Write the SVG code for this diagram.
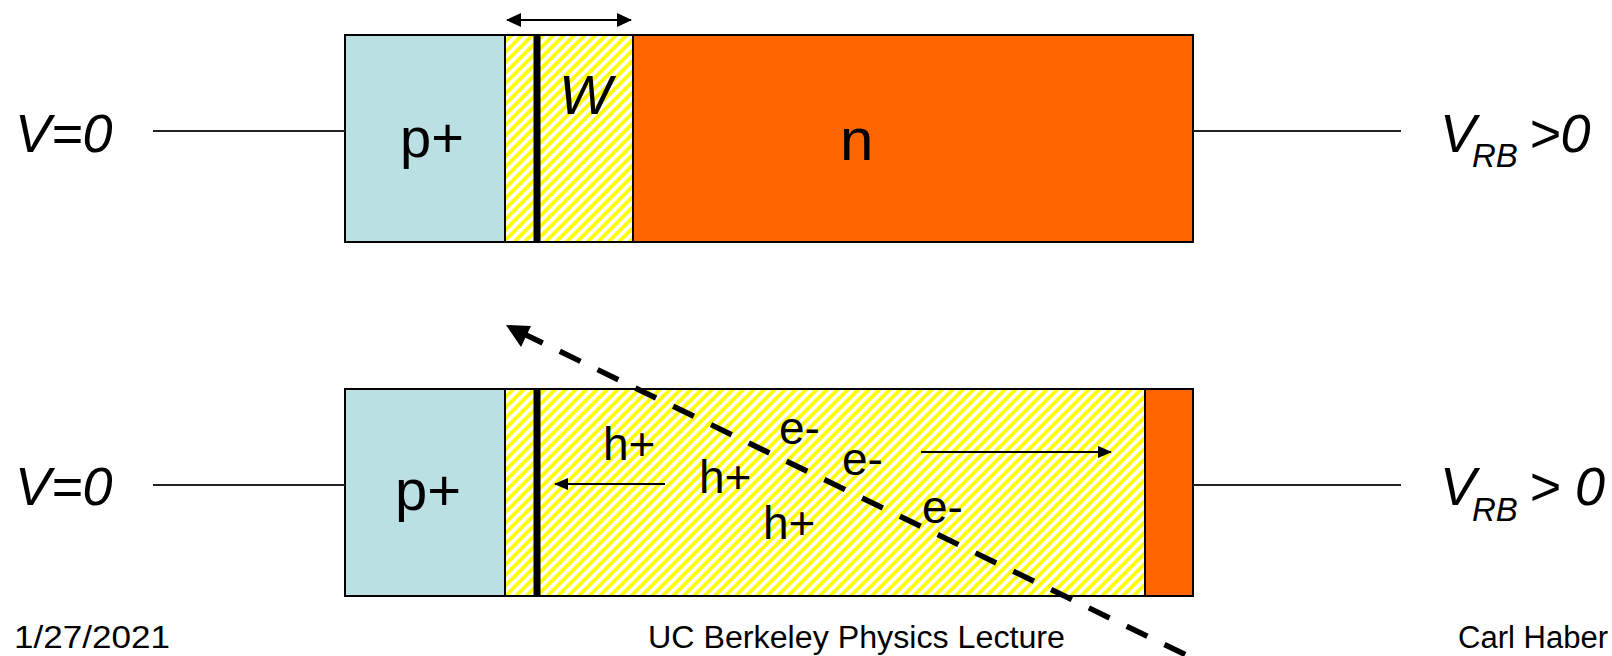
<svg xmlns="http://www.w3.org/2000/svg" width="1612" height="656" viewBox="0 0 1612 656">
<style>
.box{stroke:#000;stroke-width:2}
.pp{fill:#BBE0E3}
.nn{fill:#FF6600}
.hz{fill:url(#hatch)}
.junc{fill:#000}
.wire{stroke:#222;stroke-width:2;fill:none}
.lbl{font-family:"Liberation Sans",Arial,sans-serif;fill:#000}
.it{font-family:"Liberation Sans",Arial,sans-serif;font-style:italic;fill:#000}
.foot{font-family:"Liberation Sans",Arial,sans-serif;fill:#000;font-size:31px}
.arr{stroke:#000;stroke-width:2;fill:none}
</style>
<defs>
<pattern id="hatch" width="7.4" height="7.4" patternUnits="userSpaceOnUse" patternTransform="rotate(45)">
<rect width="7.4" height="7.4" fill="#fff"/>
<rect width="3.7" height="7.4" fill="#FFFF00"/>
</pattern>
<marker id="ah" markerUnits="userSpaceOnUse" markerWidth="16" markerHeight="16" refX="14" refY="7" orient="auto-start-reverse">
<path d="M0,0 L15,7 L0,14 z" fill="#000"/>
</marker>
<marker id="ahs" markerUnits="userSpaceOnUse" markerWidth="16" markerHeight="14" refX="13" refY="6" orient="auto-start-reverse">
<path d="M0,0 L14,6 L0,12 z" fill="#000"/>
</marker>
</defs>
<rect width="1612" height="656" fill="#fff"/>

<g id="top-diode">
<rect class="box pp" x="345" y="35" width="160" height="207"/>
<rect class="box hz" x="505" y="35" width="128" height="207"/>
<rect class="box nn" x="633" y="35" width="560" height="207"/>
<rect class="junc" x="533.5" y="35" width="7" height="207"/>
<text class="lbl" x="400" y="157" font-size="56">p+</text>
<text class="it" x="559" y="114" font-size="56">W</text>
<text class="lbl" x="840" y="160" font-size="60">n</text>
</g>

<g id="bottom-diode">
<rect class="box pp" x="345" y="389" width="160" height="207"/>
<rect class="box hz" x="505" y="389" width="640" height="207"/>
<rect class="box nn" x="1145" y="389" width="48" height="207"/>
<rect class="junc" x="533.5" y="389" width="7" height="207"/>
<text class="lbl" x="395" y="510" font-size="58">p+</text>
<text class="lbl" x="603" y="460" font-size="46">h+</text>
<text class="lbl" x="699" y="493" font-size="46">h+</text>
<text class="lbl" x="763" y="539" font-size="46">h+</text>
<text class="lbl" x="779" y="444" font-size="46">e-</text>
<text class="lbl" x="842" y="475" font-size="46">e-</text>
<text class="lbl" x="922" y="523" font-size="46">e-</text>
</g>

<g id="labels">
<text class="it" x="15" y="152" font-size="54">V=0</text>
<text class="it" x="15" y="505" font-size="54">V=0</text>
<text class="it" font-size="54" y="152"><tspan x="1440">V</tspan><tspan x="1472" y="167" font-size="33">RB</tspan><tspan x="1529" y="152">&gt;0</tspan></text>
<text class="it" font-size="54" y="505"><tspan x="1440">V</tspan><tspan x="1472" y="521" font-size="33">RB</tspan><tspan x="1529" y="505">&gt;</tspan><tspan x="1575" y="505">0</tspan></text>
</g>

<g id="connectors">
<line class="wire" x1="153" y1="131" x2="345" y2="131"/>
<line class="wire" x1="1193" y1="131" x2="1401" y2="131"/>
<line class="wire" x1="153" y1="485" x2="345" y2="485"/>
<line class="wire" x1="1193" y1="485" x2="1401" y2="485"/>
<line class="arr" x1="507" y1="20" x2="631" y2="20" stroke-width="2.5" marker-start="url(#ah)" marker-end="url(#ah)"/>
<line class="arr" x1="665" y1="484" x2="555" y2="484" marker-end="url(#ahs)"/>
<line class="arr" x1="921" y1="452" x2="1111" y2="452" marker-end="url(#ahs)"/>
<line x1="522" y1="333" x2="1217" y2="670" stroke="#000" stroke-width="5.5" stroke-dasharray="23 19"/>
<polygon points="506,325 531,326 521,347" fill="#000"/>
</g>

<g id="footer">
<text class="foot" x="14" y="648" textLength="156" lengthAdjust="spacingAndGlyphs">1/27/2021</text>
<text class="foot" x="648" y="648" textLength="417" lengthAdjust="spacingAndGlyphs">UC Berkeley Physics Lecture</text>
<text class="foot" x="1458" y="648" textLength="150" lengthAdjust="spacingAndGlyphs">Carl Haber</text>
</g>
</svg>
